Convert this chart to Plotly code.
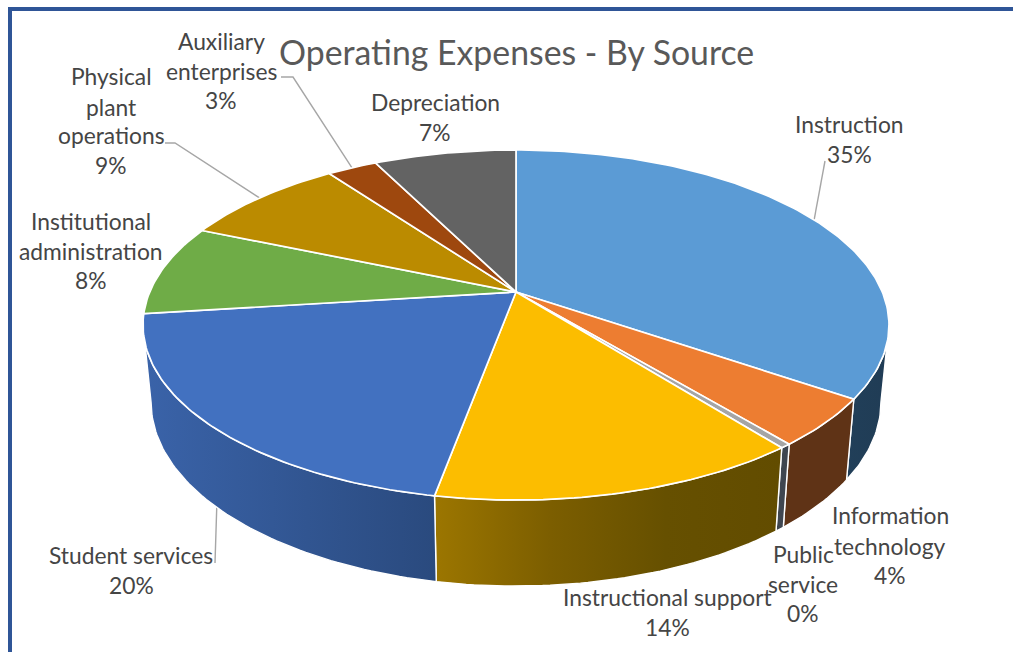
import numpy as np
import plotly.graph_objects as go

# Share of operating expenses per source, in percent
categories = ["Instruction", "Information technology", "Public service",
              "Instructional support", "Student services",
              "Institutional administration", "Physical plant operations",
              "Auxiliary enterprises", "Depreciation"]
values = [34.6, 4.4, 0.4, 13.5, 20.1, 8.4, 8.6, 2.6, 7.4]

top_colors = ["#5b9bd5", "#ed7d31", "#a5a5a5", "#fcbd00", "#4271c0",
              "#6fac47", "#bb8b00", "#9e480e", "#636363"]
side_gradients = [
    ["#213f59", "#203c55"],
    ["#5f3316", "#5f3316"],
    ["#3f4650", "#3f4650"],
    ["#9c7600", "#7c5e00", "#665000", "#624c00"],
    ["#3a63a9", "#2a4a7e"],
    None, None, None, None,
]

# Perspective model of the disc: camera tilt and the two rim planes
WIDTH, HEIGHT = 1013, 652
CX = 516.0
TILT = 0.1886
TOP_PLANE = dict(a=366.3, b=168.8, y0=292.0)
BOTTOM_PLANE = dict(a=358.4, b=177.5, y0=367.3)
VISIBLE_FROM, VISIBLE_TO = 100.9, 259.1


def project(theta_deg, plane):
    t = np.radians(theta_deg)
    x, y = np.sin(t), np.cos(t)
    w = 1 + TILT * y
    return CX + plane["a"] * x / w, plane["y0"] - plane["b"] * y / w


def arc(start, end):
    n = max(int(abs(end - start)) + 2, 2)
    return np.linspace(start, end, n)


edges = np.concatenate([[0], np.cumsum(values)]) * 3.6
mids = (edges[:-1] + edges[1:]) / 2

fig = go.Figure()

# Leader lines run from a rim point at the slice's mid-angle to its label
leaders = [
    (0, TOP_PLANE, [(825, 161)]),
    (7, TOP_PLANE, [(293, 77), (281, 77)]),
    (6, TOP_PLANE, [(175, 143), (165, 143)]),
    (4, BOTTOM_PLANE, [(215, 563)]),
]
for idx, plane, rest in leaders:
    rx, ry = project(mids[idx], plane)
    fig.add_trace(go.Scatter(
        x=[float(rx)] + [p[0] for p in rest],
        y=[float(ry)] + [p[1] for p in rest],
        mode="lines", line=dict(color="#a6a6a6", width=1.4),
        hoverinfo="skip", showlegend=False))

# Outer wall of each slice facing the viewer
for i, grad in enumerate(side_gradients):
    if grad is None:
        continue
    a0 = max(edges[i], VISIBLE_FROM)
    a1 = min(edges[i + 1], VISIBLE_TO)
    if a1 <= a0:
        continue
    th = arc(a0, a1)
    tx, ty = project(th, TOP_PLANE)
    bx, by = project(th[::-1], BOTTOM_PLANE)
    stops = [[k / (len(grad) - 1), c] for k, c in enumerate(grad)]
    fig.add_trace(go.Scatter(
        x=np.concatenate([tx, bx, tx[:1]]),
        y=np.concatenate([ty, by, ty[:1]]),
        mode="lines", fill="toself",
        fillgradient=dict(type="horizontal", colorscale=stops),
        line=dict(color="#ffffff", width=1.4),
        hoverinfo="skip", showlegend=False))

# Top face of each slice
for i, name in enumerate(categories):
    th = arc(edges[i], edges[i + 1])
    tx, ty = project(th, TOP_PLANE)
    fig.add_trace(go.Scatter(
        x=np.concatenate([[CX], tx, [CX]]),
        y=np.concatenate([[TOP_PLANE["y0"]], ty, [TOP_PLANE["y0"]]]),
        mode="lines", fill="toself", fillcolor=top_colors[i],
        line=dict(color="#ffffff", width=1.7),
        name=name, hoverinfo="name", showlegend=False))

# Data labels, one entry per text line: (text, centre x, centre y)
percent = [f"{round(v)}%" for v in values]
label_lines = [
    ("Instruction", 849, 124), (percent[0], 849, 154),
    ("Information", 890, 515), ("technology", 890, 546), (percent[1], 890, 575),
    ("Public", 803, 554), ("service", 803, 584), (percent[2], 803, 613),
    ("Instructional support", 667, 597), (percent[3], 667, 627),
    ("Student services", 131, 555), (percent[4], 131, 585),
    ("Institutional", 91, 221), ("administration", 91, 251), (percent[5], 91, 280),
    ("Physical", 111, 76), ("plant", 111, 107), ("operations", 111, 135), (percent[6], 111, 165),
    ("Auxiliary", 221, 41), ("enterprises", 221, 71), (percent[7], 221, 100),
    ("Depreciation", 435, 102), (percent[8], 435, 132),
]
for text, lx, ly in label_lines:
    fig.add_annotation(x=lx, y=ly, text=text, showarrow=False,
                       xanchor="center", yanchor="middle",
                       font=dict(family="Lato", size=22.8, color="#454545"))

fig.add_annotation(x=516.5, y=52, text="Operating Expenses - By Source",
                   showarrow=False, xanchor="center", yanchor="middle",
                   font=dict(family="Lato", size=33.8, color="#595959"))

# Dark blue frame along the left and top edges
FRAME = "#2f5597"
fig.add_shape(type="rect", x0=8, x1=12, y0=7, y1=HEIGHT, fillcolor=FRAME, line_width=0, layer="below")
fig.add_shape(type="rect", x0=8, x1=WIDTH, y0=7, y1=11, fillcolor=FRAME, line_width=0, layer="below")

fig.update_layout(
    width=WIDTH, height=HEIGHT,
    margin=dict(l=0, r=0, t=0, b=0),
    paper_bgcolor="#ffffff", plot_bgcolor="#ffffff",
    showlegend=False,
    xaxis=dict(range=[0, WIDTH], visible=False, fixedrange=True),
    yaxis=dict(range=[HEIGHT, 0], visible=False, fixedrange=True),
)

fig.write_html("out.html")
